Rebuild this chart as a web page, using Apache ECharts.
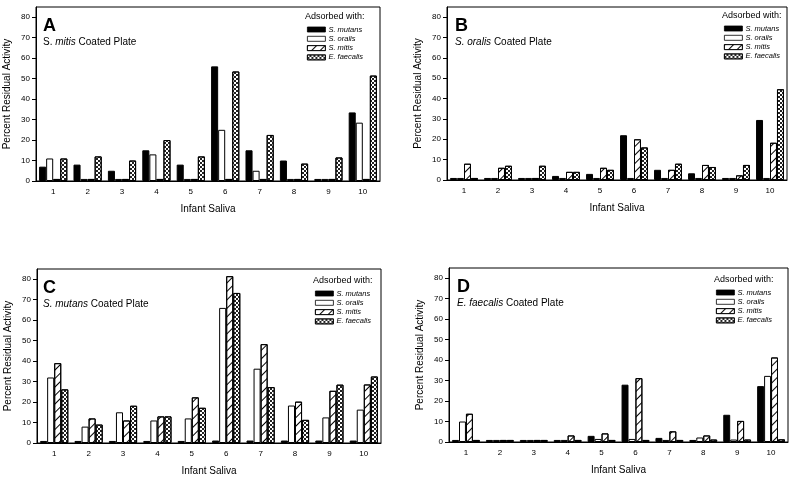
<!DOCTYPE html>
<html>
<head>
<meta charset="utf-8">
<script src="https://cdn.jsdelivr.net/npm/echarts@6/dist/echarts.min.js"></script>
<style>
  html, body { margin: 0; padding: 0; background: #fff; }
  #chart { width: 800px; height: 480px; }
</style>
</head>
<body>
<div id="chart"></div>
<script>
var saliva = ['1', '2', '3', '4', '5', '6', '7', '8', '9', '10'];
var adsorbers = ['S. mutans', 'S. oralis', 'S. mitis', 'E. faecalis'];
var yTicks = [0, 10, 20, 30, 40, 50, 60, 70, 80];

// A: S. mitis coated plate
var aMutans = [7, 8, 5, 15, 8, 56, 15, 10, 1, 33.5];
var aOralis = [11, 1, 1, 13, 1, 25, 5, 1, 1, 28.5];
var aMitis = [1, 1, 1, 1, 1, 1, 1, 1, 1, 1];
var aFaecalis = [11, 12, 10, 20, 12, 53.5, 22.5, 8.5, 11.5, 51.5];
// B: S. oralis coated plate
var bMutans = [1, 1, 1, 2, 3, 22, 5, 3.3, 1, 29.5];
var bOralis = [1, 1, 1, 1, 1, 1, 1, 1, 1, 1];
var bMitis = [8, 6, 1, 4, 6, 20, 5, 7.4, 2.3, 18.3];
var bFaecalis = [1, 7, 7, 4, 5, 16, 8, 6.4, 7.4, 44.6];
// C: S. mutans coated plate
var cMutans = [1, 1, 1, 1, 1, 1.2, 1.2, 1.2, 1.2, 1.2];
var cOralis = [32, 8, 15, 11, 12, 66, 36.3, 18.3, 12.5, 16.3];
var cMitis = [39, 12, 11, 13, 22.3, 81.5, 48.3, 20.2, 25.5, 28.6];
var cFaecalis = [26.2, 9, 18.2, 13, 17.2, 73.3, 27.3, 11.3, 28.5, 32.5];
// D: E. faecalis coated plate
var dMutans = [1, 1, 1, 1, 3, 28, 2, 1, 13.3, 27.3];
var dOralis = [10, 1, 1, 1, 1.5, 1.5, 1, 2.2, 1.2, 32.3];
var dMitis = [13.8, 1, 1, 3.2, 4.2, 31.2, 5.2, 3.2, 10.3, 41.3];
var dFaecalis = [1, 1, 1, 1, 1, 1, 1, 1.2, 1.2, 1.3];

var FONT = 'Arial, "Liberation Sans", sans-serif';

var panels = [
  { letter: 'A', sub: 'S. {i|mitis} Coated Plate', grid: { left: 36, top: 7, width: 344, height: 174 },
    data: [aMutans, aOralis, aMitis, aFaecalis], legX: 305, legY: 12, lx: 7 },
  { letter: 'B', sub: '{i|S. oralis} Coated Plate', grid: { left: 447, top: 7, width: 340, height: 173 },
    data: [bMutans, bOralis, bMitis, bFaecalis], legX: 722, legY: 11, lx: 8 },
  { letter: 'C', sub: '{i|S. mutans} Coated Plate', grid: { left: 37, top: 269, width: 344, height: 174 },
    data: [cMutans, cOralis, cMitis, cFaecalis], legX: 313, legY: 276, lx: 6 },
  { letter: 'D', sub: '{i|E. faecalis} Coated Plate', grid: { left: 449, top: 268, width: 339, height: 174 },
    data: [dMutans, dOralis, dMitis, dFaecalis], legX: 714, legY: 275, lx: 8 }
];

var hatch = {
  symbol: 'rect', symbolSize: 1, color: '#000',
  dashArrayX: [1, 0], dashArrayY: [1, 5], rotation: -Math.PI / 4
};
var checker = {
  symbol: 'rect', symbolSize: 1, color: '#222',
  dashArrayX: [[2, 2], [0, 2, 2, 0]], dashArrayY: [2, 0]
};
var styles = [
  { color: '#000', borderColor: '#000', borderWidth: 1 },
  { color: '#fff', borderColor: '#000', borderWidth: 1 },
  { color: '#fff', borderColor: '#000', borderWidth: 1, decal: hatch },
  { color: '#fff', borderColor: '#000', borderWidth: 1, decal: checker }
];

var grids = [], xAxes = [], yAxes = [], series = [], titles = [], legends = [];

panels.forEach(function (p, k) {
  grids.push(Object.assign({ show: true, borderColor: '#000', borderWidth: 1 }, p.grid));
  xAxes.push({
    type: 'category', gridIndex: k, data: saliva,
    name: 'Infant Saliva', nameLocation: 'middle', nameGap: 23,
    nameTextStyle: { fontSize: 10, color: '#000', fontFamily: FONT },
    axisLine: { lineStyle: { color: '#000' } },
    axisTick: { show: false },
    axisLabel: { fontSize: 8, color: '#000', margin: 7, fontFamily: FONT }
  });
  yAxes.push({
    type: 'value', gridIndex: k, min: 0, max: 85,
    name: 'Percent Residual Activity', nameLocation: 'middle', nameGap: 24,
    nameTextStyle: { fontSize: 10, color: '#000', fontFamily: FONT },
    axisLine: { show: true, lineStyle: { color: '#000' } },
    axisTick: { show: true, length: 4, customValues: yTicks, lineStyle: { color: '#000' } },
    axisLabel: { fontSize: 8, color: '#000', margin: 6, customValues: yTicks, fontFamily: FONT },
    splitLine: { show: false }
  });
  p.data.forEach(function (vals, s) {
    series.push({
      type: 'bar', name: adsorbers[s], xAxisIndex: k, yAxisIndex: k,
      data: vals, barGap: '0%', barCategoryGap: '18%',
      itemStyle: styles[s], emphasis: { disabled: true }, animation: false
    });
  });
  titles.push({
    text: p.letter, left: p.grid.left + p.lx, top: p.grid.top + 10, padding: 0,
    textStyle: { fontSize: 18, fontWeight: 'bold', color: '#000', fontFamily: FONT }
  });
  titles.push({
    text: p.sub, left: p.grid.left + p.lx, top: p.grid.top + 30, padding: 0,
    textStyle: { fontSize: 10, fontWeight: 'normal', color: '#000', fontFamily: FONT,
      rich: { i: { fontSize: 10, fontStyle: 'italic', color: '#000', fontFamily: FONT } } }
  });
  titles.push({
    text: 'Adsorbed with:', left: p.legX, top: p.legY, padding: 0,
    textStyle: { fontSize: 9, fontWeight: 'normal', color: '#000', fontFamily: FONT }
  });
  legends.push({
    data: adsorbers, orient: 'vertical', left: p.legX + 2, top: p.legY + 13, padding: 0,
    itemWidth: 18, itemHeight: 5, itemGap: 0.3, selectedMode: false,
    icon: 'rect',
    itemStyle: { borderWidth: 0.8 },
    textStyle: { fontSize: 7.5, lineHeight: 9, fontStyle: 'italic', color: '#000', fontFamily: FONT, padding: [0, 0, 0, -2] }
  });
});

var chart = echarts.init(document.getElementById('chart'));
chart.setOption({
  backgroundColor: '#fff',
  animation: false,
  title: titles,
  legend: legends,
  grid: grids,
  xAxis: xAxes,
  yAxis: yAxes,
  series: series
});
</script>
</body>
</html>
